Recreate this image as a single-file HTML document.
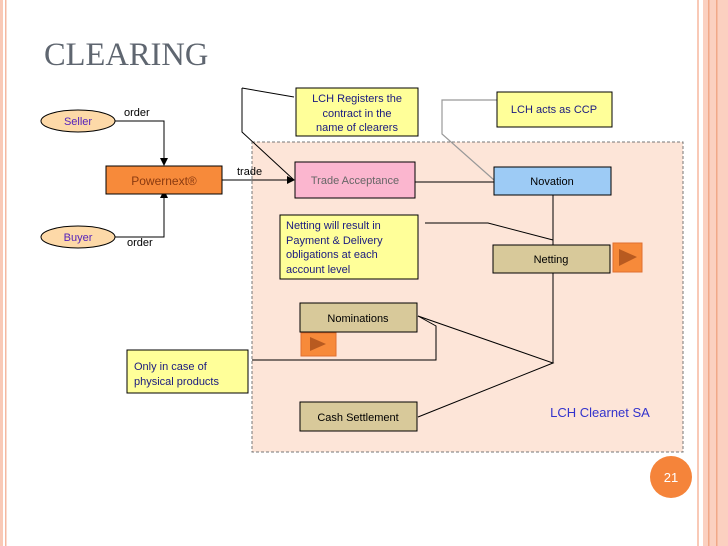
<!DOCTYPE html>
<html><head><meta charset="utf-8"><style>
html,body{margin:0;padding:0;background:#fff}
svg{display:block}
text{font-family:"Liberation Sans",sans-serif}
</style></head><body>
<svg width="728" height="546" viewBox="0 0 728 546" xmlns="http://www.w3.org/2000/svg">
<rect x="0" y="0" width="3" height="546" fill="#f9c9b6"/>
<rect x="5" y="0" width="1.5" height="546" fill="#f4b8a0"/>
<rect x="697" y="0" width="2" height="546" fill="#f9c9b6"/>
<rect x="703" y="0" width="25" height="546" fill="#fbd0c0"/>
<rect x="708" y="0" width="1.5" height="546" fill="#f1a888"/>
<rect x="716" y="0" width="1.5" height="546" fill="#f1a888"/>
<text x="44" y="65" font-size="32.5" fill="#5f6670" style="font-family:'Liberation Serif',serif">CLEARING</text>
<rect x="252" y="142" width="431" height="310" fill="#fde5d8" stroke="#777" stroke-dasharray="3,2" stroke-width="1"/>
<g stroke="#000" stroke-width="1" fill="none">
<polyline points="115,121 164,121 164,160"/>
<polyline points="115,237 164,237 164,196"/>
<line x1="222" y1="180" x2="293" y2="180"/>
<line x1="415" y1="182" x2="494" y2="182"/>
<line x1="553" y1="195" x2="553" y2="245"/>
<line x1="553" y1="273" x2="553" y2="363"/>
<polyline points="418,316 553,363 418,417"/>
<polyline points="242,88 294,97"/>
<polyline points="242,88 242,132 294,180"/>
<polyline points="425,223 488,223 553,240"/>
<polyline points="418,316 436,326 436,360 252,360"/>
</g>
<g stroke="#999" stroke-width="1.2" fill="none">
<polyline points="497,100 442,100 442,134 494,180"/>
</g>
<polygon points="164,166 160,158 168,158" fill="#000"/>
<polygon points="164,190 160,198 168,198" fill="#000"/>
<polygon points="295,180 287,176 287,184" fill="#000"/>
<ellipse cx="78" cy="121" rx="37" ry="11" fill="#fdd9a8" stroke="#000"/>
<text x="78" y="125" font-size="11" fill="#5522bb" text-anchor="middle">Seller</text>
<ellipse cx="78" cy="237" rx="37" ry="11" fill="#fdd9a8" stroke="#000"/>
<text x="78" y="241" font-size="11" fill="#5522bb" text-anchor="middle">Buyer</text>
<text x="124" y="116" font-size="11" fill="#000">order</text>
<text x="127" y="246" font-size="11" fill="#000">order</text>
<text x="237" y="175" font-size="11" fill="#000">trade</text>
<rect x="106" y="166" width="116" height="28" fill="#f78a3a" stroke="#000"/>
<text x="164" y="185" font-size="12" fill="#8a3a10" text-anchor="middle">Powernext®</text>
<rect x="295" y="162" width="120" height="36" fill="#fbb6cf" stroke="#000"/>
<text x="355" y="184" font-size="11" fill="#666" text-anchor="middle">Trade Acceptance</text>
<rect x="494" y="167" width="117" height="28" fill="#9dcbf5" stroke="#000"/>
<text x="552" y="185" font-size="11" fill="#000" text-anchor="middle">Novation</text>
<rect x="493" y="245" width="117" height="28" fill="#d8c99a" stroke="#000"/>
<text x="551" y="263" font-size="11" fill="#000" text-anchor="middle">Netting</text>
<rect x="613" y="243" width="29" height="29" fill="#f78a3a" stroke="#e07030"/>
<polygon points="619,249 619,266 637,257" fill="#b85a20"/>
<rect x="300" y="303" width="117" height="29" fill="#d8c99a" stroke="#000"/>
<text x="358" y="322" font-size="11" fill="#000" text-anchor="middle">Nominations</text>
<rect x="301" y="333" width="35" height="23" fill="#f78a3a" stroke="#e07030"/>
<polygon points="310,337 310,351 326,344" fill="#b85a20"/>
<rect x="300" y="402" width="117" height="29" fill="#d8c99a" stroke="#000"/>
<text x="358" y="421" font-size="11" fill="#000" text-anchor="middle">Cash Settlement</text>
<text x="600" y="417" font-size="13" fill="#3333cc" text-anchor="middle">LCH Clearnet SA</text>
<rect x="296" y="88" width="122" height="48" fill="#ffff99" stroke="#000"/>
<text font-size="11" fill="#1a1a80" text-anchor="middle"><tspan x="357" y="102">LCH Registers the</tspan><tspan x="357" y="117">contract in the</tspan><tspan x="357" y="131">name of clearers</tspan></text>
<rect x="497" y="92" width="115" height="35" fill="#ffff99" stroke="#000"/>
<text x="554" y="113" font-size="11" fill="#1a1a80" text-anchor="middle">LCH acts as CCP</text>
<rect x="280" y="215" width="138" height="64" fill="#ffff99" stroke="#000"/>
<text font-size="11" fill="#1a1a80"><tspan x="286" y="229">Netting will result in</tspan><tspan x="286" y="244">Payment &amp; Delivery</tspan><tspan x="286" y="258">obligations at each</tspan><tspan x="286" y="273">account level</tspan></text>
<rect x="127" y="350" width="121" height="43" fill="#ffff99" stroke="#000"/>
<text font-size="11" fill="#1a1a80"><tspan x="134" y="370">Only in case of</tspan><tspan x="134" y="385">physical products</tspan></text>
<circle cx="671" cy="477" r="21" fill="#f5843a"/>
<text x="671" y="482" font-size="13" fill="#fff" text-anchor="middle">21</text>
</svg>
</body></html>
